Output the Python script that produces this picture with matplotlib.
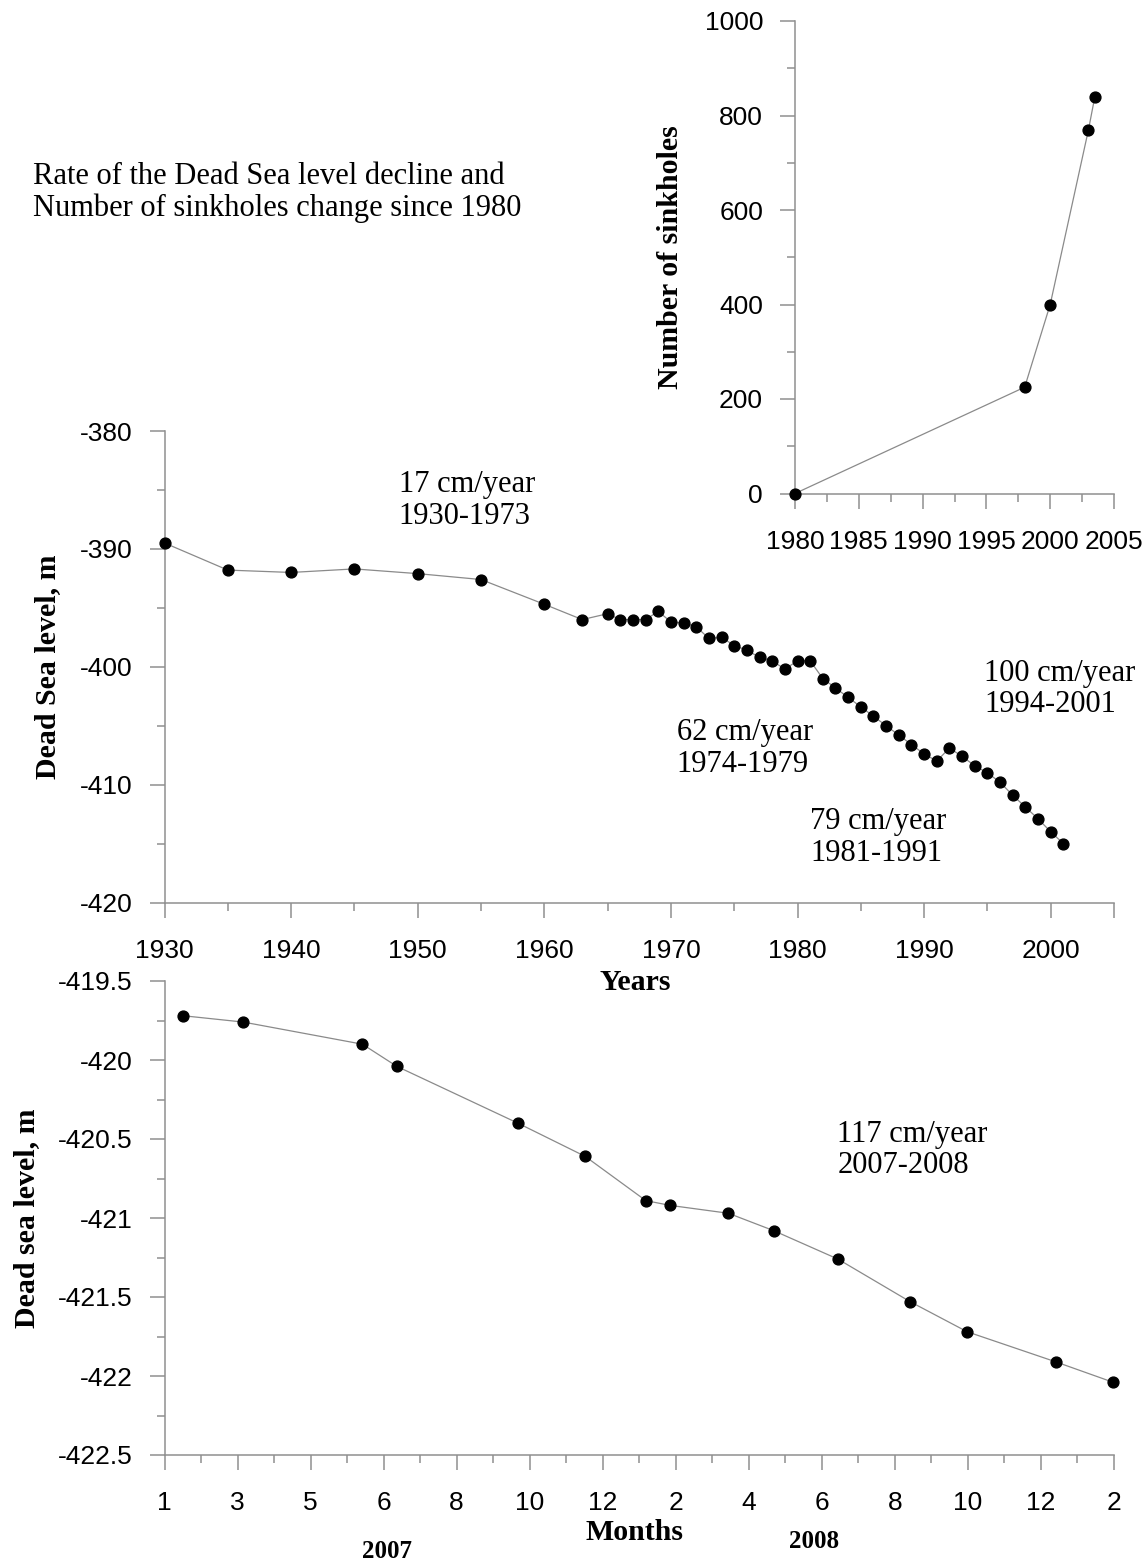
import matplotlib
matplotlib.use('Agg')
import matplotlib.pyplot as plt
from matplotlib.ticker import MultipleLocator, FixedLocator, FormatStrFormatter

# number of sinkholes (inset)
sink_years = [1980, 1998, 2000, 2003, 2003.5]
sink_count = [0, 225, 400, 770, 840]

# Dead Sea level by year
level_years = [1930, 1935, 1940, 1945, 1950, 1955, 1960, 1963,
               1965, 1966, 1967, 1968, 1969, 1970, 1971, 1972, 1973,
               1974, 1975, 1976, 1977, 1978, 1979, 1980, 1981, 1982,
               1983, 1984, 1985, 1986, 1987, 1988, 1989, 1990, 1991,
               1992, 1993, 1994, 1995, 1996, 1997, 1998, 1999, 2000, 2001]
level_m = [-389.5, -391.8, -392.0, -391.7, -392.1, -392.6, -394.7, -396.0,
           -395.5, -396.0, -396.0, -396.0, -395.3, -396.2, -396.3, -396.6, -397.6,
           -397.5, -398.2, -398.6, -399.2, -399.5, -400.2, -399.5, -399.5, -401.0,
           -401.8, -402.6, -403.4, -404.2, -405.0, -405.8, -406.6, -407.4, -408.0,
           -406.9, -407.6, -408.4, -409.0, -409.8, -410.9, -411.9, -412.9, -414.0, -415.0]

# Dead Sea level 2007-2008 (position on the month axis)
month_pos = [0.26, 1.08, 2.71, 3.18, 4.84, 5.76, 6.59, 6.92, 7.72,
             8.34, 9.22, 10.21, 10.99, 12.2, 12.99]
month_level = [-419.72, -419.76, -419.9, -420.04, -420.4, -420.61, -420.89,
               -420.92, -420.97, -421.08, -421.26, -421.53, -421.72, -421.91, -422.04]
month_labels = ['1', '3', '5', '6', '8', '10', '12', '2', '4', '6', '8', '10', '12', '2']

GRAY = '#8f8f8f'
LINE = '#8a8a8a'
SERIF = 'Liberation Serif'
W, H = 1144, 1562

plt.rcParams['font.family'] = 'Liberation Sans'
plt.rcParams['axes.unicode_minus'] = False


def px(x, y):
    return x / W, 1 - y / H


def style(ax):
    ax.patch.set_visible(False)
    for s in ['top', 'right']:
        ax.spines[s].set_visible(False)
    for s in ['left', 'bottom']:
        ax.spines[s].set_color(GRAY)
        ax.spines[s].set_linewidth(1.1)
    ax.tick_params(which='both', direction='out', color=GRAY, width=1.1,
                   labelsize=19, labelcolor='black')
    ax.tick_params(which='major', length=11)
    ax.tick_params(which='minor', length=6)
    ax.tick_params(axis='x', which='major', pad=15)
    ax.tick_params(axis='y', which='major', pad=12)


def draw(ax, x, y):
    ax.plot(x, y, color=LINE, lw=0.9, marker='o', ms=7.8, mfc='black',
            mec='black', clip_on=False, zorder=3)


fig = plt.figure(figsize=(W / 100, H / 100), dpi=100)

# main: yearly level
ax = fig.add_axes([164.5 / W, 1 - 902.5 / H, 949.5 / W, 471.5 / H])
draw(ax, level_years, level_m)
ax.set_xlim(1930, 2005)
ax.set_ylim(-420, -380)
ax.set_xticks(list(range(1930, 2001, 10)) + [2005])
ax.set_xticklabels([str(y) for y in range(1930, 2001, 10)] + [''])
ax.xaxis.set_minor_locator(FixedLocator(list(range(1935, 2000, 10))))
ax.yaxis.set_major_locator(MultipleLocator(10))
ax.yaxis.set_minor_locator(MultipleLocator(5))
style(ax)

txt = dict(fontfamily=SERIF, fontsize=22, linespacing=1.12, va='center', ha='left')
ax.text(1948.5, -385.9, '17 cm/year\n1930-1973', **txt)
ax.text(1970.45, -406.95, '62 cm/year\n1974-1979', **txt)
ax.text(1981.0, -414.5, '79 cm/year\n1981-1991', **txt)
ax.text(1994.75, -401.9, '100 cm/year\n1994-2001', **txt)

# inset: number of sinkholes
ax_in = fig.add_axes([795 / W, 1 - 493.5 / H, 319 / W, 472.5 / H])
draw(ax_in, sink_years, sink_count)
ax_in.set_xlim(1980, 2005)
ax_in.set_ylim(0, 1000)
ax_in.xaxis.set_major_locator(MultipleLocator(5))
ax_in.xaxis.set_minor_locator(MultipleLocator(2.5))
ax_in.yaxis.set_major_locator(MultipleLocator(200))
ax_in.yaxis.set_minor_locator(MultipleLocator(100))
style(ax_in)

# bottom: monthly level 2007-2008
ax_m = fig.add_axes([164.5 / W, 1 - 1455 / H, 949.5 / W, 474 / H])
draw(ax_m, month_pos, month_level)
ax_m.set_xlim(0, 13)
ax_m.set_ylim(-422.5, -419.5)
ax_m.set_xticks(range(len(month_labels)))
ax_m.set_xticklabels(month_labels)
ax_m.xaxis.set_minor_locator(MultipleLocator(0.5))
ax_m.yaxis.set_major_locator(MultipleLocator(0.5))
ax_m.yaxis.set_minor_locator(MultipleLocator(0.25))
ax_m.yaxis.set_major_formatter(FormatStrFormatter('%g'))
style(ax_m)
ax_m.text(9.21, -420.57, '117 cm/year\n2007-2008', **txt)

# labels and title
bold = dict(fontfamily=SERIF, fontweight='bold', fontsize=21.5, ha='center', va='center')
fig.text(*px(670, 257), 'Number of sinkholes', rotation=90, **bold)
fig.text(*px(48, 667), 'Dead Sea level, m', rotation=90, **bold)
fig.text(*px(27, 1218), 'Dead sea level, m', rotation=90, **bold)
fig.text(*px(635, 982), 'Years', **bold)
fig.text(*px(634, 1532), 'Months', **bold)
fig.text(*px(387, 1552), '2007', fontfamily=SERIF, fontweight='bold', fontsize=18,
         ha='center', va='center')
fig.text(*px(814, 1541), '2008', fontfamily=SERIF, fontweight='bold', fontsize=18,
         ha='center', va='center')

fig.text(*px(33, 192.5), 'Rate of the Dead Sea level decline and\n'
         'Number of sinkholes change since 1980',
         fontfamily=SERIF, fontsize=22, linespacing=1.12, ha='left', va='center')

fig.savefig('out.png', dpi=100)
